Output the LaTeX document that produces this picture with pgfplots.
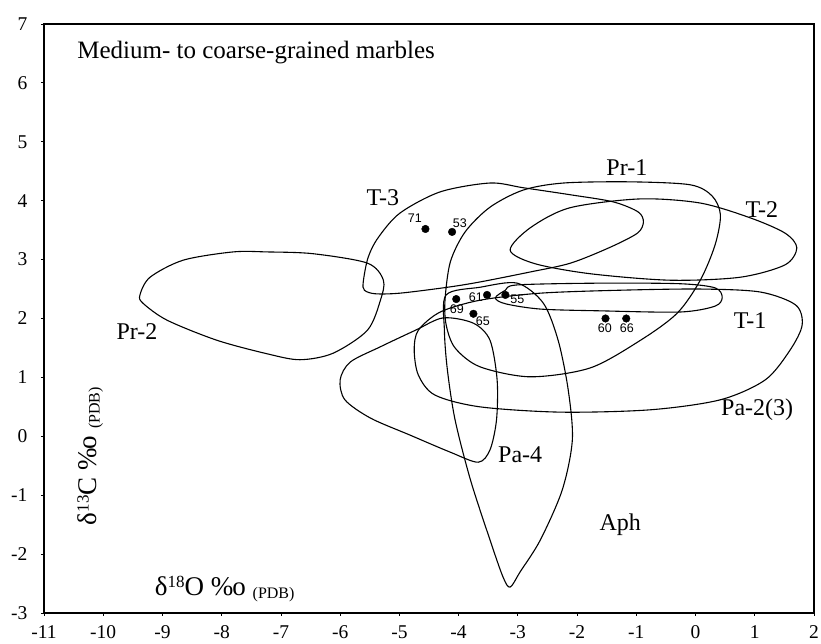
\documentclass[border=0pt]{standalone}
\usepackage{pgfplots}
\pgfplotsset{compat=1.18}
\usepackage{fontspec}
\setmainfont{Liberation Serif}
\newfontfamily\lsans{Liberation Sans}

\newcommand\fs[1]{\fontsize{#1}{#1}\selectfont}
% delta axis label: isotope number raised, (PDB) lowered
\newcommand\dlab[2]{\fs{27bp}δ\raisebox{8bp}{\fs{17bp}#1}#2\ \%\kern-1bp o\ \raisebox{-3bp}{\fs{16bp}(PDB)}}

\begin{document}
\begin{tikzpicture}
\begin{axis}[name=ax, scale only axis, width=770bp, height=589bp,
  xmin=-11, xmax=2, ymin=-3, ymax=7,
  xtick={-11,...,2}, ytick={-3,...,7},
  xticklabels={-11,-10,-9,-8,-7,-6,-5,-4,-3,-2,-1,0,1,2},
  yticklabels={-3,-2,-1,0,1,2,3,4,5,6,7},
  tick pos=left, tick align=outside, major tick length=3bp,
  ticklabel style={font=\fs{19.5bp}},
  xticklabel style={yshift=-6bp},
  yticklabel style={xshift=-10bp},
  axis line style={line width=1.1bp},
  every tick/.style={black, line width=0.8bp},
  clip=false,
  every axis plot/.append style={black, line width=1.1bp, mark=none},
]
% Pr-2
\addplot[smooth cycle] coordinates {(-9.38,2.40) (-9.21,2.70) (-8.65,2.99) (-7.81,3.13) (-7.23,3.13) (-6.46,3.10) (-5.54,2.94) (-5.27,2.65) (-5.32,2.31) (-5.54,1.80) (-6.12,1.41) (-6.68,1.30) (-7.23,1.40) (-8.08,1.63) (-8.92,1.97) (-9.33,2.26)};
% T-3
\addplot[smooth cycle] coordinates {(-5.61,2.62) (-5.53,3.03) (-5.36,3.37) (-4.99,3.79) (-4.31,4.15) (-3.47,4.30) (-2.91,4.22) (-2.11,4.10) (-1.39,3.98) (-0.97,3.81) (-0.88,3.64) (-0.98,3.45) (-1.44,3.21) (-2.11,2.94) (-2.79,2.79) (-3.64,2.62) (-4.19,2.53) (-4.99,2.43) (-5.41,2.42) (-5.59,2.48)};
% Pr-1
\addplot[smooth cycle] coordinates {(-4.23,2.31) (-4.14,2.96) (-3.89,3.47) (-3.47,3.89) (-2.91,4.18) (-2.23,4.30) (-1.10,4.32) (-0.09,4.27) (0.28,4.08) (0.42,3.76) (0.33,3.25) (0.08,2.65) (-0.31,2.09) (-0.93,1.63) (-1.78,1.16) (-2.79,1.01) (-3.64,1.18) (-4.06,1.50) (-4.21,1.89)};
% T-2
\addplot[smooth cycle] coordinates {(-3.13,3.16) (-2.79,3.54) (-2.12,3.88) (-0.94,4.03) (0.08,3.96) (0.92,3.71) (1.51,3.45) (1.71,3.20) (1.51,2.91) (0.75,2.70) (-0.43,2.65) (-1.78,2.76) (-2.71,2.93)};
% T-1
\addplot[smooth cycle] coordinates {(-3.38,2.35) (-3.21,2.48) (-3.01,2.57) (-1.61,2.60) (-0.26,2.59) (0.33,2.52) (0.45,2.36) (0.33,2.21) (-0.26,2.11) (-1.61,2.13) (-2.62,2.16) (-3.21,2.25)};
% Pa-2(3)
\addplot[smooth cycle] coordinates {(-4.68,1.80) (-4.31,2.11) (-3.64,2.31) (-2.62,2.43) (-1.27,2.48) (0.08,2.50) (1.09,2.45) (1.69,2.23) (1.80,1.89) (1.60,1.47) (1.18,0.96) (0.42,0.62) (-0.76,0.45) (-2.28,0.41) (-3.64,0.50) (-4.40,0.70) (-4.68,1.04) (-4.75,1.47)};
% Pa-4
\addplot[smooth cycle] coordinates {(-6.00,0.96) (-5.83,1.26) (-5.32,1.52) (-4.73,1.80) (-4.26,2.01) (-3.75,1.92) (-3.47,1.63) (-3.35,0.96) (-3.36,0.28) (-3.47,-0.23) (-3.67,-0.44) (-4.14,-0.27) (-4.82,0.02) (-5.49,0.31) (-5.92,0.62)};
% Aph
\addplot[smooth cycle] coordinates {(-4.21,2.40) (-3.64,2.53) (-3.01,2.60) (-2.57,2.26) (-2.32,1.63) (-2.15,0.79) (-2.08,-0.06) (-2.25,-0.91) (-2.62,-1.76) (-2.96,-2.30) (-3.13,-2.56) (-3.25,-2.39) (-3.47,-1.76) (-3.80,-0.74) (-4.06,0.28) (-4.19,1.13) (-4.24,1.80)};
% samples
\addplot[only marks, mark=*, mark size=3.8bp, line width=0.4bp] coordinates {(-4.56,3.52) (-4.11,3.47) (-3.52,2.40) (-3.21,2.40) (-4.04,2.33) (-3.75,2.08) (-1.52,2.00) (-1.17,2.00)};

\begin{scope}[every node/.style={font=\lsans\fs{12.5bp}, inner sep=0pt}]
\node at (axis cs:-4.74,3.71) {71};
\node at (axis cs:-3.98,3.62) {53};
\node at (axis cs:-3.71,2.36) {61};
\node at (axis cs:-3.01,2.33) {55};
\node at (axis cs:-4.03,2.16) {69};
\node at (axis cs:-3.59,1.96) {65};
\node at (axis cs:-1.53,1.84) {60};
\node at (axis cs:-1.16,1.84) {66};
\end{scope}

\begin{scope}[every node/.style={font=\fs{24bp}, inner sep=0pt}]
\node[anchor=west] at (axis cs:-10.44,6.52) {\fs{25bp}Medium- to coarse-grained marbles};
\node at (axis cs:-5.28,4.05) {T-3};
\node at (axis cs:-1.16,4.57) {Pr-1};
\node at (axis cs:1.12,3.85) {T-2};
\node at (axis cs:-9.43,1.77) {Pr-2};
\node at (axis cs:0.92,1.97) {T-1};
\node at (axis cs:1.04,0.45) {Pa-2(3)};
\node at (axis cs:-2.96,-0.32) {Pa-4};
\node at (axis cs:-1.27,-1.51) {Aph};
\node[anchor=base west] at (axis cs:-9.13,-2.71) {\dlab{18}{O}};
\node[anchor=base west, rotate=90] at (axis cs:-10.11,-1.51) {\dlab{13}{C}};
\end{scope}
\end{axis}
\pgfresetboundingbox
\path[use as bounding box] ([xshift=-44bp,yshift=-31bp]ax.south west) rectangle ([xshift=7bp,yshift=24bp]ax.north east);
\end{tikzpicture}
\end{document}
